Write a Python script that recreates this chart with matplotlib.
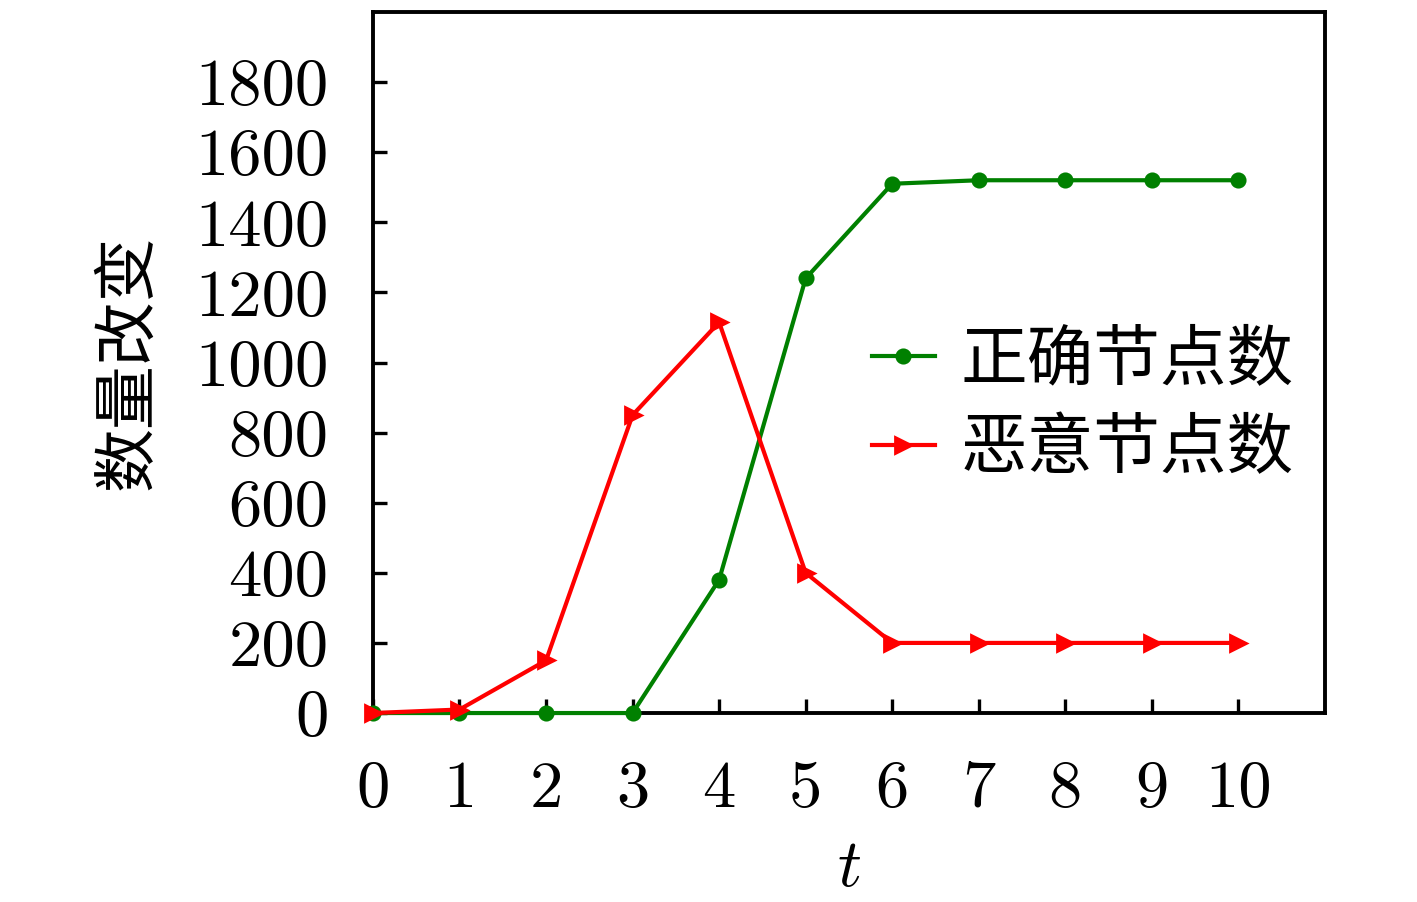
import numpy as np
import matplotlib
import matplotlib.pyplot as plt

matplotlib.use('Agg')

plt.rcParams['font.family'] = ['cmr10', 'Noto Sans CJK SC', 'DejaVu Sans']
plt.rcParams['mathtext.fontset'] = 'cm'
plt.rcParams['axes.unicode_minus'] = False

t = list(range(11))
correct_nodes = [0, 0, 0, 0, 380, 1240, 1510, 1520, 1520, 1520, 1520]
malicious_nodes = [0, 10, 150, 850, 1115, 400, 200, 200, 200, 200, 200]
labels = ['正确节点数', '恶意节点数']
yticks = [0, 200, 400, 600, 800, 1000, 1200, 1400, 1600, 1800]


def plot_chart():
    fig = plt.figure(figsize=(7.085, 4.51), dpi=200)
    ax = fig.add_axes([0.2632, 0.2095, 0.6718, 0.7772])

    ax.plot(t, correct_nodes, color='green', marker='o', markersize=4.8,
            linewidth=1.5, label=labels[0], clip_on=False, zorder=3)
    ax.plot(t, malicious_nodes, color='red', marker='>', markersize=6,
            linewidth=1.5, label=labels[1], clip_on=False, zorder=4)

    ax.set_xlim(0, 11)
    ax.set_ylim(0, 2000)
    ax.set_xticks(t)
    ax.set_yticks(yticks)
    ax.tick_params(direction='in', length=5, width=1.2, labelsize=24,
                   top=False, right=False)
    ax.tick_params(axis='y', pad=16)
    ax.tick_params(axis='x', pad=17)
    for s in ax.spines.values():
        s.set_linewidth(1.4)

    ax.set_xlabel('$t$', fontsize=24, labelpad=7)
    ax.set_ylabel('数量改变', fontsize=23, labelpad=13)

    ax.legend(loc='center left', bbox_to_anchor=(0.461, 0.438), frameon=False,
              fontsize=24, handlelength=0.95, handletextpad=0.38, labelspacing=0.4)

    fig.savefig('out.png', dpi=200)
    plt.close(fig)


if __name__ == "__main__":
    plot_chart()
